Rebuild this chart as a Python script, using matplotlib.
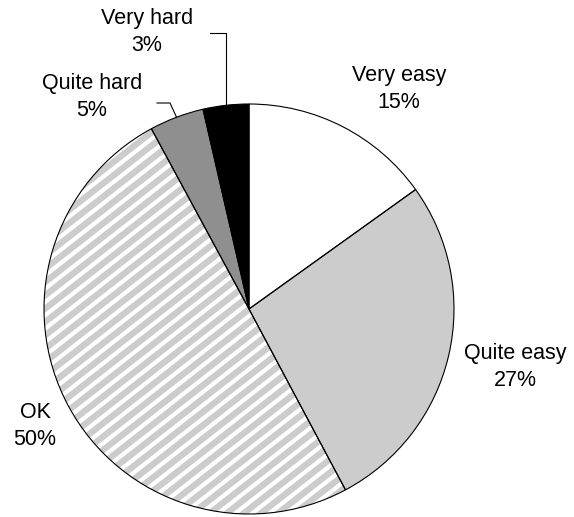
import numpy as np
import matplotlib
matplotlib.use("Agg")
import matplotlib.pyplot as plt
from matplotlib.collections import LineCollection

plt.rcParams['font.family'] = ['Liberation Sans', 'DejaVu Sans']

# slice sizes, labels as printed
categories = ['Very easy', 'Quite easy', 'OK', 'Quite hard', 'Very hard']
values = [15.1, 27.1, 49.9, 4.3, 3.6]
pct_labels = ['15%', '27%', '50%', '5%', '3%']
colors = ['white', '#cccccc', '#cccccc', '#8f8f8f', 'black']

W, H = 574, 517
fig = plt.figure(figsize=(W / 100, H / 100), dpi=100)
ax = fig.add_axes([0, 0, 1, 1])

cx, cy, r = 249, H - 309, 205

# faces
wedges, _ = ax.pie(values, colors=colors, startangle=90, counterclock=False,
                   center=(cx, cy), radius=r, frame=True,
                   wedgeprops=dict(linewidth=0))

# white diagonal stripes on the OK slice, clipped to it
ang = np.deg2rad(38)
step = 10.5
d = np.array([np.cos(ang), np.sin(ang)])
n = np.array([-np.sin(ang), np.cos(ang)])
segs = []
for k in np.arange(-r, r + step, step):
    p0 = np.array([cx, cy]) + k * n - r * 1.1 * d
    p1 = np.array([cx, cy]) + k * n + r * 1.1 * d
    segs.append([p0, p1])
lc = LineCollection(segs, colors='white', linewidths=3.0, zorder=1.5)
ax.add_collection(lc)
lc.set_clip_path(wedges[2])

# outlines on top
ax.pie(values, startangle=90, counterclock=False, center=(cx, cy), radius=r,
       frame=True, wedgeprops=dict(fill=False, edgecolor='black', linewidth=0.8,
                                   zorder=3))

# labels
pos = {'Very easy': (399, 89), 'Quite easy': (515, 367), 'OK': (35, 426),
       'Quite hard': (92, 97), 'Very hard': (147, 32)}
for cat, p in zip(categories, pct_labels):
    x, y = pos[cat]
    ax.text(x, H - y, cat + '\n' + p, ha='center', va='center', fontsize=15.5,
            linespacing=1.35, multialignment='center')

# leader lines for the two small slices
def edge_point(w):
    mid = np.deg2rad((w.theta1 + w.theta2) / 2)
    return cx + r * np.cos(mid), cy + r * np.sin(mid)

x0, y0 = edge_point(wedges[4])
ax.plot([x0, x0, 210], [y0, H - 33, H - 33], color='black', lw=0.8)
x1, y1 = edge_point(wedges[3])
ax.plot([x1, 170, 157], [y1, H - 103, H - 103], color='black', lw=0.8)

ax.set_xlim(0, W)
ax.set_ylim(0, H)
ax.axis('off')

fig.savefig('out.png', dpi=100)
